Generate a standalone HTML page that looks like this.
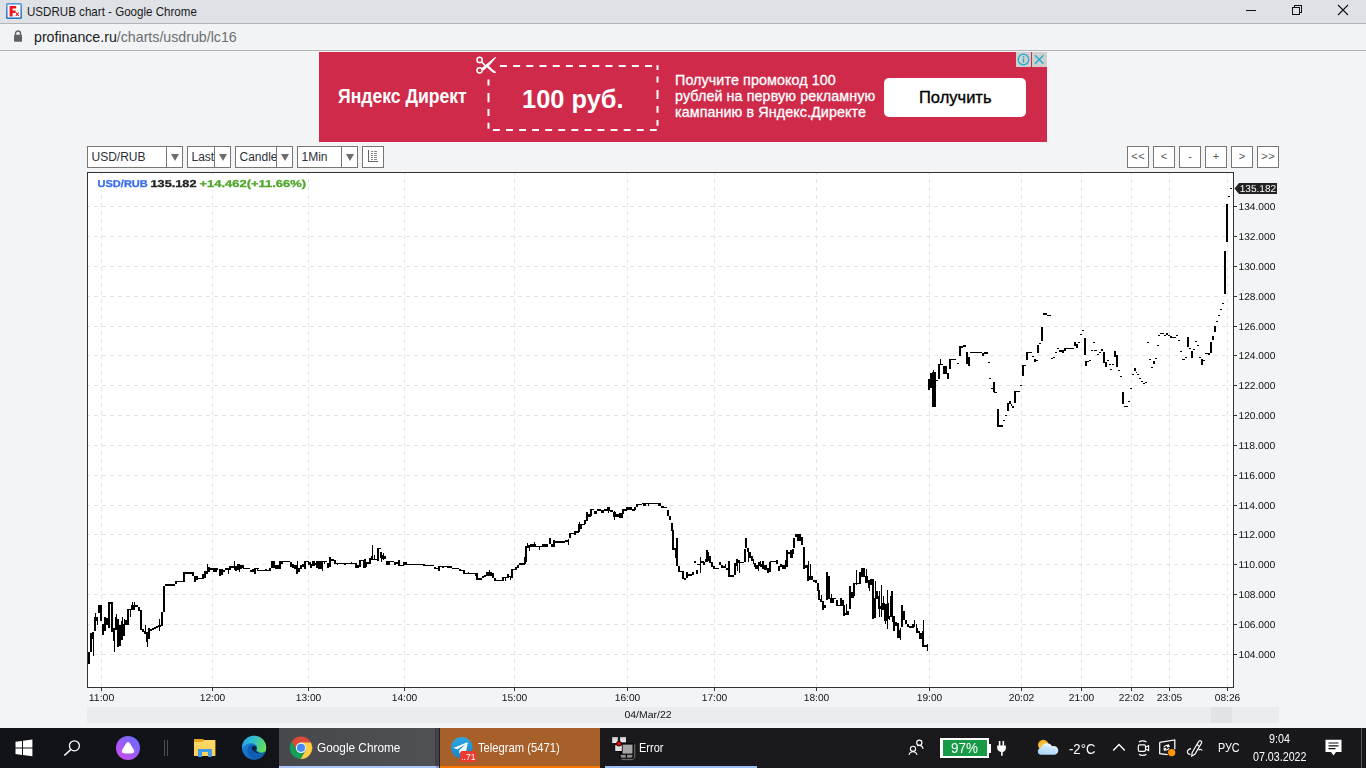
<!DOCTYPE html>
<html>
<head>
<meta charset="utf-8">
<title>USDRUB chart</title>
<style>
*{box-sizing:border-box;margin:0;padding:0}
html,body{width:1366px;height:768px;overflow:hidden;background:#f3f4f6;font-family:"Liberation Sans",sans-serif;}
.abs{position:absolute}
.nw{white-space:nowrap}
#titlebar{left:0;top:0;width:1366px;height:23px;background:#dee1e6}
#titlebar .t{left:27px;top:4.300px;font-size:12.2px;transform:scaleX(0.95);line-height:16px;color:#1a1a1a;white-space:nowrap;transform-origin:0 0}
#tb-line{left:0;top:23px;width:1366px;height:1px;background:#b3b4b6}
#urlbar{left:0;top:24px;width:1366px;height:26px;background:#f1f3f4}
#urlbar .u{left:34px;top:4.300px;font-size:14.2px;line-height:18px;color:#202124;white-space:nowrap;transform-origin:0 0}
#urlbar .u span{color:#6b6f74}
#url-line{left:0;top:50px;width:1366px;height:1px;background:#b3b4b6}
#page{left:0;top:51px;width:1366px;height:677px;background:#f3f4f6}
#ad{left:319px;top:52px;width:728px;height:90px;background:#cf2a4a;overflow:hidden;color:#fff}
#taskbar{will-change:transform;left:0;top:728px;width:1366px;height:40px;background:linear-gradient(90deg,#111318 0,#121419 270px,#1a1a1d 620px,#18181b 100%);color:#fff}
.sel{height:22px;top:146px;border:1px solid #767676;background:#fff;font-size:12px;color:#2b2f3a}
.sel .tx{position:absolute;left:3.5px;top:3px;line-height:14px;white-space:nowrap}
.sel .dv{position:absolute;top:0;width:1px;height:20px;background:#767676}
.sel .ar{position:absolute;top:7px;width:0;height:0;border-left:4px solid transparent;border-right:4px solid transparent;border-top:7px solid #6e6e6e}
.btn{height:22px;width:22px;top:146px;border:1px solid #767676;background:#fff;font-size:11px;color:#555;text-align:center;line-height:19px;letter-spacing:0.4px;padding-left:0.4px}
#scroll{left:87px;top:707px;width:1192px;height:16px;background:#ebecee}
#thumb{left:1211px;top:707px;width:21px;height:16px;background:#e2e3e5}
.tk{position:absolute;top:0;height:40px}
.lbl{position:absolute;top:12px;font-size:12.2px;line-height:16px;white-space:nowrap;color:#fff;transform-origin:0 0}
</style>
</head>
<body>
<div id="titlebar" class="abs">
<svg class="abs" style="left:6px;top:3px" width="16" height="16" viewBox="0 0 16 16"><defs><linearGradient id="fv" x1="0" y1="0" x2="0" y2="1"><stop offset="0" stop-color="#5a9ad8"/><stop offset="1" stop-color="#2c72c0"/></linearGradient></defs><rect x="0" y="0" width="16" height="16" rx="1.500" fill="url(#fv)"/><rect x="1.600" y="1.600" width="12.800" height="12.800" fill="#fff"/><path d="M3.600 3h6.600v2.500H6.600v2h3v2.400h-3v3.600h-3z" fill="#f0141e"/><path d="M9.300 9.500h1.300l.7.900.7-.9h1.300l-1.300 1.700 1.400 1.900h-1.300l-.8-1.100-.8 1.100H9.200l1.400-1.900z" fill="#f0141e"/></svg>
<div class="t abs" id="ttl">USDRUB chart - Google Chrome</div>
<svg class="abs" style="left:1240px;top:0" width="126" height="23" viewBox="1240 0 126 23" shape-rendering="crispEdges"><rect x="1246" y="10" width="10" height="1" fill="#111"/><g fill="none" stroke="#111" stroke-width="1"><rect x="1292.500" y="7.500" width="7" height="7"/><path d="M1294.500 7.500v-2h7v7h-2"/></g><g shape-rendering="geometricPrecision" stroke="#111" stroke-width="1.100"><path d="M1338 5l10 10M1348 5l-10 10"/></g></svg>
</div>
<div id="tb-line" class="abs"></div>
<div id="urlbar" class="abs">
<svg class="abs" style="left:13px;top:6px" width="10" height="13" viewBox="0 0 10 13"><path d="M2.500 5V3.600a2.500 2.600 0 0 1 5 0V5" fill="none" stroke="#5f6368" stroke-width="1.400"/><rect x="1" y="4.800" width="8" height="7" rx="0.800" fill="#5f6368"/></svg>
<div class="u abs" id="url">profinance.ru<span>/charts/usdrub/lc16</span></div>
</div>
<div id="url-line" class="abs"></div>
<div id="page" class="abs"></div>

<!-- AD -->
<div id="ad" class="abs">
<div class="abs nw" id="ad1" style="left:19px;top:31px;font-size:21px;font-weight:bold;line-height:26px;transform-origin:0 0;transform:scaleX(0.837)">Яндекс Директ</div>
<svg class="abs" style="left:156px;top:3px" width="24" height="22" viewBox="0 0 24 22"><g fill="none" stroke="#fff" stroke-width="1.500"><circle cx="4.600" cy="4.900" r="2.600"/><circle cx="4.600" cy="15.300" r="2.600"/><path d="M6.500 6.900l4.600 4.600" stroke-width="1.700"/></g><path d="M6.300 13.400L19.200 2.700q1.700-1.300 2.100-.5Q16.500 9 8.600 15.600z" fill="#fff"/><path d="M11.400 11.600l1.800-1.700q3.800 4.600 8.100 7.400-.9 1.500-3.500.1-3.600-2.500-6.400-5.800z" fill="#fff"/></svg>
<svg class="abs" style="left:0;top:0" width="728" height="90" viewBox="0 0 728 90"><path d="M180.9 13.0h7.0v2.0h-7.0zM194.1 13.0h7.0v2.0h-7.0zM207.3 13.0h7.0v2.0h-7.0zM220.5 13.0h7.0v2.0h-7.0zM233.7 13.0h7.0v2.0h-7.0zM246.9 13.0h7.0v2.0h-7.0zM260.1 13.0h7.0v2.0h-7.0zM273.3 13.0h7.0v2.0h-7.0zM286.5 13.0h7.0v2.0h-7.0zM299.7 13.0h7.0v2.0h-7.0zM312.9 13.0h7.0v2.0h-7.0zM326.1 13.0h7.0v2.0h-7.0zM337.5 13.2h2.0v4.8h-2.0zM337.5 24.5h2.0v6.1h-2.0zM337.5 37.9h2.0v9.0h-2.0zM337.5 54.0h2.0v6.8h-2.0zM337.5 68.0h2.0v5.8h-2.0zM173.9 77.0h6.9v2.0h-6.9zM187.0 77.0h6.9v2.0h-6.9zM200.1 77.0h6.9v2.0h-6.9zM213.1 77.0h6.9v2.0h-6.9zM226.2 77.0h6.9v2.0h-6.9zM239.3 77.0h6.9v2.0h-6.9zM252.4 77.0h6.9v2.0h-6.9zM265.5 77.0h6.9v2.0h-6.9zM278.5 77.0h6.9v2.0h-6.9zM291.6 77.0h6.9v2.0h-6.9zM304.7 77.0h6.9v2.0h-6.9zM317.8 77.0h6.9v2.0h-6.9zM330.9 77.0h6.9v2.0h-6.9zM168.5 27.5h2.0v6.0h-2.0zM168.5 41.0h2.0v9.2h-2.0zM168.5 57.1h2.0v6.9h-2.0zM168.5 70.8h2.0v6.0h-2.0z" fill="#fff"/></svg>
<div class="abs nw" id="ad2" style="left:203px;top:32px;font-size:25.200px;font-weight:bold;line-height:30px;transform-origin:0 0;transform:scaleX(1.009)">100 руб.</div>
<div class="abs" id="ad3" style="left:356px;top:20px;font-size:14.300px;line-height:16px;width:230px;letter-spacing:0.100px;-webkit-text-stroke:0.300px #fff">Получите промокод 100<br>рублей на первую рекламную<br>кампанию в Яндекс.Директе</div>
<div class="abs" style="left:565px;top:26px;width:142px;height:39px;background:#fff;border-radius:5px"></div>
<div class="abs nw" id="ad4" style="left:600px;top:35px;font-size:16.500px;line-height:20px;color:#000;-webkit-text-stroke:0.350px #000;transform-origin:0 0">Получить</div>
<div class="abs" style="left:697px;top:0;width:15px;height:15px;background:#cfcfcf"></div>
<div class="abs" style="left:713px;top:0;width:15px;height:15px;background:#cfcfcf"></div>
<svg class="abs" style="left:697px;top:0" width="31" height="15" viewBox="0 0 31 15"><circle cx="7.500" cy="7.500" r="5.300" fill="none" stroke="#1badd1" stroke-width="1.200"/><rect x="6.900" y="6.400" width="1.300" height="4.300" fill="#1badd1"/><rect x="6.900" y="4" width="1.300" height="1.400" fill="#1badd1"/><path d="M19 3.200l8.500 8.600M27.500 3.200L19 11.800" stroke="#1badd1" stroke-width="1.300"/></svg>
</div>

<!-- TOOLBAR -->
<div class="sel abs" style="left:87px;width:96px"><div class="tx">USD/RUB</div><div class="dv" style="left:78px"></div><div class="ar" style="left:83px"></div></div>
<div class="sel abs" style="left:187px;width:44px;overflow:hidden"><div class="tx">Last</div><div class="dv" style="left:26px"></div><div class="ar" style="left:31px"></div></div>
<div class="sel abs" style="left:235px;width:58px;overflow:hidden"><div class="tx">Candle</div><div class="dv" style="left:40px;box-shadow:1px 0 0 #fff,2px 0 0 #fff"></div><div class="ar" style="left:45px"></div></div>
<div class="sel abs" style="left:297px;width:61px"><div class="tx">1Min</div><div class="dv" style="left:43px"></div><div class="ar" style="left:48px"></div></div>
<div class="btn abs" style="left:362px"><svg class="abs" style="left:4px;top:3px" width="13" height="13" viewBox="0 0 13 13" shape-rendering="crispEdges"><path d="M1.500 0v11.500h9" fill="none" stroke="#666" stroke-width="1"/><g fill="#888"><rect x="4" y="1" width="2" height="1"/><rect x="7" y="1" width="3" height="1"/><rect x="4" y="3" width="2" height="1"/><rect x="7" y="3" width="3" height="1"/><rect x="4" y="5" width="2" height="1"/><rect x="7" y="5" width="3" height="1"/><rect x="4" y="7" width="2" height="1"/><rect x="7" y="7" width="3" height="1"/><rect x="4" y="9" width="2" height="1"/><rect x="7" y="9" width="3" height="1"/></g></svg></div>
<div class="btn abs" style="left:1127px">&lt;&lt;</div>
<div class="btn abs" style="left:1153px">&lt;</div>
<div class="btn abs" style="left:1179px">-</div>
<div class="btn abs" style="left:1205px">+</div>
<div class="btn abs" style="left:1231px">&gt;</div>
<div class="btn abs" style="left:1257px">&gt;&gt;</div>

<!-- CHART -->
<div id="scroll" class="abs"></div>
<div id="thumb" class="abs"></div>
<svg class="abs" style="left:0;top:160px;will-change:transform" width="1366" height="568" viewBox="0 160 1366 568" font-family="Liberation Sans, sans-serif">
<rect x="87" y="172" width="1147" height="516" fill="#fff"/>
<g shape-rendering="crispEdges">
<g stroke="#e4e4e4" stroke-width="1" fill="none">
<path d="M88 206.5H1231" stroke-dasharray="4 4" stroke-dashoffset="2"/>
<path d="M88 236.5H1231" stroke-dasharray="4 4" stroke-dashoffset="2"/>
<path d="M88 266.5H1231" stroke-dasharray="4 4" stroke-dashoffset="2"/>
<path d="M88 296.5H1231" stroke-dasharray="4 4" stroke-dashoffset="2"/>
<path d="M88 326.5H1231" stroke-dasharray="4 4" stroke-dashoffset="2"/>
<path d="M88 355.5H1231" stroke-dasharray="4 4" stroke-dashoffset="2"/>
<path d="M88 385.5H1231" stroke-dasharray="4 4" stroke-dashoffset="2"/>
<path d="M88 415.5H1231" stroke-dasharray="4 4" stroke-dashoffset="2"/>
<path d="M88 445.5H1231" stroke-dasharray="4 4" stroke-dashoffset="2"/>
<path d="M88 475.5H1231" stroke-dasharray="4 4" stroke-dashoffset="2"/>
<path d="M88 505.5H1231" stroke-dasharray="4 4" stroke-dashoffset="2"/>
<path d="M88 534.5H1231" stroke-dasharray="4 4" stroke-dashoffset="2"/>
<path d="M88 564.5H1231" stroke-dasharray="4 4" stroke-dashoffset="2"/>
<path d="M88 594.5H1231" stroke-dasharray="4 4" stroke-dashoffset="2"/>
<path d="M88 624.5H1231" stroke-dasharray="4 4" stroke-dashoffset="2"/>
<path d="M88 654.5H1231" stroke-dasharray="4 4" stroke-dashoffset="2"/>
<path d="M101.5 173V687" stroke-dasharray="4 4" stroke-dashoffset="2"/>
<path d="M212.5 173V687" stroke-dasharray="4 4" stroke-dashoffset="2"/>
<path d="M308.5 173V687" stroke-dasharray="4 4" stroke-dashoffset="2"/>
<path d="M404.5 173V687" stroke-dasharray="4 4" stroke-dashoffset="2"/>
<path d="M514.5 173V687" stroke-dasharray="4 4" stroke-dashoffset="2"/>
<path d="M627.5 173V687" stroke-dasharray="4 4" stroke-dashoffset="2"/>
<path d="M714.5 173V687" stroke-dasharray="4 4" stroke-dashoffset="2"/>
<path d="M816.5 173V687" stroke-dasharray="4 4" stroke-dashoffset="2"/>
<path d="M929.5 173V687" stroke-dasharray="4 4" stroke-dashoffset="2"/>
<path d="M1021.5 173V687" stroke-dasharray="4 4" stroke-dashoffset="2"/>
<path d="M1081.5 173V687" stroke-dasharray="4 4" stroke-dashoffset="2"/>
<path d="M1131.5 173V687" stroke-dasharray="4 4" stroke-dashoffset="2"/>
<path d="M1169.5 173V687" stroke-dasharray="4 4" stroke-dashoffset="2"/>
<path d="M1227.5 173V687" stroke-dasharray="4 4" stroke-dashoffset="2"/>
</g>
<rect x="95" y="177" width="212" height="13" fill="#fff"/>
<g fill="#333">
<rect x="87" y="172" width="1147" height="1"/>
<rect x="87" y="172" width="1" height="516"/>
<rect x="87" y="687" width="1147" height="1"/>
<rect x="1233" y="172" width="1" height="516"/>
<rect x="1234" y="206" width="3" height="1"/>
<rect x="1234" y="236" width="3" height="1"/>
<rect x="1234" y="266" width="3" height="1"/>
<rect x="1234" y="296" width="3" height="1"/>
<rect x="1234" y="326" width="3" height="1"/>
<rect x="1234" y="355" width="3" height="1"/>
<rect x="1234" y="385" width="3" height="1"/>
<rect x="1234" y="415" width="3" height="1"/>
<rect x="1234" y="445" width="3" height="1"/>
<rect x="1234" y="475" width="3" height="1"/>
<rect x="1234" y="505" width="3" height="1"/>
<rect x="1234" y="534" width="3" height="1"/>
<rect x="1234" y="564" width="3" height="1"/>
<rect x="1234" y="594" width="3" height="1"/>
<rect x="1234" y="624" width="3" height="1"/>
<rect x="1234" y="654" width="3" height="1"/>
<rect x="101" y="688" width="1" height="3"/>
<rect x="212" y="688" width="1" height="3"/>
<rect x="308" y="688" width="1" height="3"/>
<rect x="404" y="688" width="1" height="3"/>
<rect x="514" y="688" width="1" height="3"/>
<rect x="627" y="688" width="1" height="3"/>
<rect x="714" y="688" width="1" height="3"/>
<rect x="816" y="688" width="1" height="3"/>
<rect x="929" y="688" width="1" height="3"/>
<rect x="1021" y="688" width="1" height="3"/>
<rect x="1081" y="688" width="1" height="3"/>
<rect x="1131" y="688" width="1" height="3"/>
<rect x="1169" y="688" width="1" height="3"/>
<rect x="1227" y="688" width="1" height="3"/>
</g>
<path fill="#000" d="M88 652h2v12h-2zM90 633h2v19h-2zM92 632h2v7h-2zM93 639h1v17h-1zM94 617h2v14h-2zM95 613h1v4h-1zM96 617h2v4h-2zM97 621h1v4h-1zM98 605h4v8h-4zM100 605h2v16h-2zM102 624h2v11h-2zM104 617h2v14h-2zM106 618h2v7h-2zM108 602h2v26h-2zM108 602h5v2h-5zM111 602h2v30h-2zM113 628h2v13h-2zM114 641h1v11h-1zM115 617h2v13h-2zM116 614h1v3h-1zM117 619h2v28h-2zM119 625h2v21h-2zM121 621h2v19h-2zM122 617h1v4h-1zM123 624h2v12h-2zM124 619h1v5h-1zM125 620h2v5h-2zM127 609h2v16h-2zM127 609h5v1h-5zM130 609h1v8h-1zM131 605h4v5h-4zM132 602h1v3h-1zM134 602h1v3h-1zM135 605h3v2h-3zM138 607h2v4h-2zM140 610h2v20h-2zM142 629h2v3h-2zM144 631h2v3h-2zM145 625h1v9h-1zM146 632h2v10h-2zM147 642h1v5h-1zM148 628h2v11h-2zM150 629h2v2h-2zM152 628h2v2h-2zM154 627h2v2h-2zM156 626h2v2h-2zM158 625h3v2h-3zM159 619h1v12h-1zM161 612h2v14h-2zM163 586h2v26h-2zM165 584h10v2h-10zM175 581h2v3h-2zM176 581h8v1h-8zM183 572h2v10h-2zM183 572h11v2h-11zM192 572h2v4h-2zM194 576h2v6h-2zM196 576h2v4h-2zM198 578h4v1h-4zM202 574h2v5h-2zM204 571h2v7h-2zM206 571h2v3h-2zM207 564h1v7h-1zM208 567h2v5h-2zM210 568h8v2h-8zM213 569h4v3h-4zM219 569h2v7h-2zM221 569h2v6h-2zM223 570h2v2h-2zM225 568h2v2h-2zM227 568h2v2h-2zM228 569h1v5h-1zM229 566h2v4h-2zM229 566h5v2h-5zM234 561h1v9h-1zM235 566h2v5h-2zM237 564h2v6h-2zM239 564h1v8h-1zM240 565h2v4h-2zM242 565h2v3h-2zM243 568h7v1h-7zM250 570h2v2h-2zM252 569h2v3h-2zM254 568h2v6h-2zM256 568h3v1h-3zM257 568h1v3h-1zM257 570h14v1h-14zM265 569h2v2h-2zM269 568h2v3h-2zM271 561h4v7h-4zM275 565h4v4h-4zM279 561h2v8h-2zM279 561h11v1h-11zM281 562h2v2h-2zM290 562h2v5h-2zM292 564h2v4h-2zM294 565h2v4h-2zM296 565h2v9h-2zM297 561h1v4h-1zM298 568h2v4h-2zM300 565h2v4h-2zM302 564h3v3h-3zM304 561h2v8h-2zM304 561h5v1h-5zM308 562h3v3h-3zM310 564h2v4h-2zM312 561h3v5h-3zM315 563h2v2h-2zM316 561h2v7h-2zM318 561h4v8h-4zM322 561h1v10h-1zM321 561h6v1h-6zM324 562h1v2h-1zM327 563h2v5h-2zM329 557h2v10h-2zM331 559h3v2h-3zM334 560h2v4h-2zM336 563h20v1h-20zM337 563h1v2h-1zM344 563h2v2h-2zM351 562h1v2h-1zM355 563h2v5h-2zM357 565h2v3h-2zM359 560h2v7h-2zM359 560h6v1h-6zM363 560h3v8h-3zM364 559h2v1h-2zM360 560h1v7h-1zM365 562h2v5h-2zM367 562h2v2h-2zM369 558h2v6h-2zM371 556h2v4h-2zM372 545h1v11h-1zM372 559h6v1h-6zM374 555h1v4h-1zM377 548h2v13h-2zM377 548h4v1h-4zM380 552h2v6h-2zM381 558h1v4h-1zM382 555h2v4h-2zM383 553h1v7h-1zM384 556h2v3h-2zM386 561h4v4h-4zM390 561h4v1h-4zM394 562h2v3h-2zM396 562h2v2h-2zM398 560h2v6h-2zM398 565h6v1h-6zM403 562h4v3h-4zM407 564h17v1h-17zM423 564h2v2h-2zM425 565h9v1h-9zM434 567h2v2h-2zM436 568h3v1h-3zM438 566h2v5h-2zM438 566h14v1h-14zM442 566h2v2h-2zM447 566h5v2h-5zM452 568h7v1h-7zM459 569h2v2h-2zM461 570h4v1h-4zM463 570h2v4h-2zM465 573h12v1h-12zM468 572h1v1h-1zM475 573h2v3h-2zM476 573h2v7h-2zM477 578h5v2h-5zM482 576h2v2h-2zM484 575h2v2h-2zM486 572h6v4h-6zM489 570h1v3h-1zM492 573h2v5h-2zM494 578h2v3h-2zM496 580h6v1h-6zM502 577h2v4h-2zM503 577h4v1h-4zM505 577h1v4h-1zM507 574h2v4h-2zM509 576h2v1h-2zM510 577h1v3h-1zM511 569h2v9h-2zM512 569h4v1h-4zM515 567h2v3h-2zM517 565h2v3h-2zM519 563h6v2h-6zM524 557h2v7h-2zM525 546h2v16h-2zM527 543h1v4h-1zM527 545h3v3h-3zM529 547h1v4h-1zM530 544h6v3h-6zM534 542h1v2h-1zM536 546h6v1h-6zM539 547h1v3h-1zM542 544h6v3h-6zM549 538h2v6h-2zM551 544h2v3h-2zM553 540h2v7h-2zM555 541h10v2h-10zM565 540h4v2h-4zM568 539h1v6h-1zM569 533h2v5h-2zM570 533h5v1h-5zM574 531h2v4h-2zM575 531h4v2h-4zM578 524h2v8h-2zM579 522h1v3h-1zM580 524h2v5h-2zM581 524h4v1h-4zM584 520h2v4h-2zM586 512h2v9h-2zM588 514h3v3h-3zM590 509h2v7h-2zM590 509h4v1h-4zM594 511h3v3h-3zM597 509h4v2h-4zM601 510h3v3h-3zM604 509h3v2h-3zM607 507h3v4h-3zM608 510h1v3h-1zM610 510h3v2h-3zM613 512h3v5h-3zM614 511h1v9h-1zM616 514h3v3h-3zM619 513h4v5h-4zM622 509h2v5h-2zM624 509h3v2h-3zM626 507h3v3h-3zM629 507h3v3h-3zM632 509h3v2h-3zM634 507h2v3h-2zM636 504h2v3h-2zM637 504h5v1h-5zM642 503h19v1h-19zM643 504h3v2h-3zM648 504h1v2h-1zM658 503h3v3h-3zM661 506h3v2h-3zM663 507h4v1h-4zM667 510h2v6h-2zM669 516h2v4h-2zM671 523h2v8h-2zM672 530h2v20h-2zM672 548h4v2h-4zM675 548h1v10h-1zM676 538h2v28h-2zM678 566h2v6h-2zM679 571h5v1h-5zM682 571h2v8h-2zM684 578h2v2h-2zM686 572h2v6h-2zM688 574h4v2h-4zM692 572h2v3h-2zM696 570h2v4h-2zM694 561h2v2h-2zM697 564h3v1h-3zM700 557h1v16h-1zM700 561h3v2h-3zM703 562h2v3h-2zM706 554h2v8h-2zM706 550h1v4h-1zM700 557h1v15h-1zM701 561h3v2h-3zM703 562h2v3h-2zM705 559h2v3h-2zM706 550h2v9h-2zM707 552h2v9h-2zM709 556h2v7h-2zM711 562h2v5h-2zM713 566h2v3h-2zM714 568h5v1h-5zM719 562h2v3h-2zM721 565h2v3h-2zM723 566h3v2h-3zM725 564h1v4h-1zM726 568h2v2h-2zM728 561h2v16h-2zM728 575h6v2h-6zM734 563h2v12h-2zM736 559h2v7h-2zM737 566h1v5h-1zM738 560h2v3h-2zM739 563h1v10h-1zM740 562h4v1h-4zM744 549h2v13h-2zM745 538h2v10h-2zM747 548h2v4h-2zM748 552h1v10h-1zM749 552h2v6h-2zM751 556h2v5h-2zM753 559h1v5h-1zM754 563h2v4h-2zM755 565h3v4h-3zM758 565h1v6h-1zM758 562h2v4h-2zM760 561h1v3h-1zM760 564h2v3h-2zM762 561h2v8h-2zM764 565h3v5h-3zM767 568h2v5h-2zM769 562h2v10h-2zM770 561h6v1h-6zM776 560h2v4h-2zM778 566h2v5h-2zM780 564h2v3h-2zM782 565h4v4h-4zM785 560h2v7h-2zM786 550h2v17h-2zM787 552h4v2h-4zM790 550h3v8h-3zM792 549h2v5h-2zM793 538h2v10h-2zM795 534h2v3h-2zM797 534h4v7h-4zM801 537h2v8h-2zM803 547h2v22h-2zM805 565h3v3h-3zM807 565h2v16h-2zM808 561h1v5h-1zM809 576h4v4h-4zM810 564h1v12h-1zM813 580h2v2h-2zM815 580h2v3h-2zM817 583h2v8h-2zM818 590h2v10h-2zM820 599h2v3h-2zM821 595h1v4h-1zM822 601h2v9h-2zM824 605h2v3h-2zM826 572h2v28h-2zM828 576h2v23h-2zM830 598h4v5h-4zM831 594h1v4h-1zM834 598h2v1h-2zM836 600h2v6h-2zM837 605h4v1h-4zM840 598h2v8h-2zM842 600h2v6h-2zM843 605h2v11h-2zM845 613h2v2h-2zM846 604h1v9h-1zM847 611h2v4h-2zM849 586h2v23h-2zM851 592h3v6h-3zM853 583h2v13h-2zM853 583h8v1h-8zM856 570h1v15h-1zM859 572h2v11h-2zM861 568h4v9h-4zM865 576h3v7h-3zM866 569h1v8h-1zM868 580h2v8h-2zM869 588h1v3h-1zM870 579h4v6h-4zM872 580h2v39h-2zM874 598h2v20h-2zM875 581h1v17h-1zM876 591h2v8h-2zM878 596h2v13h-2zM879 591h1v26h-1zM880 606h3v3h-3zM881 585h1v32h-1zM882 603h3v7h-3zM883 596h1v7h-1zM884 604h3v17h-3zM885 621h1v3h-1zM887 603h2v16h-2zM887 590h1v39h-1zM889 616h1v4h-1zM890 596h2v21h-2zM891 591h2v26h-2zM892 617h1v5h-1zM893 616h2v15h-2zM895 622h2v4h-2zM897 623h2v15h-2zM899 630h2v8h-2zM900 628h1v12h-1zM901 605h2v22h-2zM903 611h2v9h-2zM905 620h2v4h-2zM907 624h2v3h-2zM909 626h4v2h-4zM912 624h2v4h-2zM914 620h1v7h-1zM916 624h1v5h-1zM916 628h2v5h-2zM918 631h2v2h-2zM919 633h4v6h-4zM922 631h2v16h-2zM923 620h1v11h-1zM923 645h5v2h-5zM927 644h1v7h-1zM928 379h2v11h-2zM930 373h2v15h-2zM932 372h4v35h-4zM933 370h1v2h-1zM934 380h4v1h-4zM938 364h2v15h-2zM940 359h1v5h-1zM938 364h5v1h-5zM943 366h4v8h-4zM947 373h2v6h-2zM949 360h2v9h-2zM949 359h7v1h-7zM957 363h2v1h-2zM959 347h2v9h-2zM959 346h4v2h-4zM963 345h3v2h-3zM966 352h2v12h-2zM968 357h2v9h-2zM970 352h6v1h-6zM976 352h6v1h-6zM982 353h2v3h-2zM984 352h4v2h-4zM988 362h2v1h-2zM989 378h2v1h-2zM993 382h2v10h-2zM991 388h3v1h-3zM994 392h3v1h-3zM997 409h2v18h-2zM999 425h4v2h-4zM1003 420h2v1h-2zM1005 415h2v1h-2zM1007 403h2v8h-2zM1009 401h2v3h-2zM1011 404h1v2h-1zM1012 406h2v2h-2zM1014 391h2v12h-2zM1014 391h6v1h-6zM1020 385h2v1h-2zM1022 365h2v11h-2zM1022 365h4v1h-4zM1026 353h2v7h-2zM1026 352h6v1h-6zM1032 356h2v1h-2zM1034 359h2v3h-2zM1034 360h4v1h-4zM1037 345h2v8h-2zM1039 343h2v1h-2zM1041 327h2v14h-2zM1043 313h4v2h-4zM1047 315h4v1h-4zM1036 360h2v1h-2zM1051 358h2v1h-2zM1053 357h2v1h-2zM1055 352h2v1h-2zM1057 348h2v1h-2zM1059 350h3v2h-3zM1062 350h2v2h-2zM1062 352h2v1h-2zM1064 348h2v3h-2zM1065 348h9v1h-9zM1074 342h2v4h-2zM1076 344h2v4h-2zM1078 342h2v1h-2zM1080 334h2v1h-2zM1082 330h2v1h-2zM1084 338h2v17h-2zM1085 361h2v5h-2zM1087 361h2v1h-2zM1089 360h2v1h-2zM1093 342h2v1h-2zM1091 350h2v1h-2zM1094 350h3v1h-3zM1097 354h2v1h-2zM1099 352h2v1h-2zM1101 349h2v2h-2zM1103 352h2v11h-2zM1105 362h2v5h-2zM1107 360h2v1h-2zM1109 364h2v1h-2zM1112 364h2v1h-2zM1110 369h2v1h-2zM1114 351h2v6h-2zM1116 355h2v12h-2zM1118 370h2v1h-2zM1120 376h2v1h-2zM1122 392h2v12h-2zM1124 406h4v1h-4zM1128 401h2v1h-2zM1130 388h2v1h-2zM1132 374h2v1h-2zM1134 368h2v3h-2zM1136 372h1v1h-1zM1137 374h2v1h-2zM1139 378h2v1h-2zM1141 381h2v1h-2zM1143 383h2v1h-2zM1145 382h2v1h-2zM1147 342h2v1h-2zM1149 359h2v1h-2zM1151 367h2v1h-2zM1153 361h2v3h-2zM1155 358h2v1h-2zM1157 345h2v1h-2zM1158 335h2v1h-2zM1160 333h4v1h-4zM1164 335h2v1h-2zM1166 333h2v2h-2zM1168 335h2v1h-2zM1170 336h2v2h-2zM1172 337h4v1h-4zM1176 335h2v1h-2zM1178 340h2v1h-2zM1180 351h2v1h-2zM1182 359h3v1h-3zM1185 357h2v1h-2zM1187 337h2v10h-2zM1189 348h2v1h-2zM1191 351h2v7h-2zM1193 349h2v1h-2zM1195 341h2v1h-2zM1197 345h2v1h-2zM1199 357h2v1h-2zM1201 359h2v6h-2zM1203 360h2v1h-2zM1205 353h5v1h-5zM1208 353h2v2h-2zM1210 342h2v11h-2zM1212 336h2v4h-2zM1214 326h2v6h-2zM1216 321h2v1h-2zM1218 315h2v1h-2zM1220 309h2v1h-2zM1222 303h2v1h-2zM1224 251h2v43h-2zM1226 204h2v38h-2zM1228 196h2v1h-2zM1230 188h2v1h-2z"/>
</g>
<g font-size="10px" fill="#111" text-rendering="geometricPrecision">
<text x="1238.500" y="210.1" textLength="36.800" lengthAdjust="spacingAndGlyphs">134.000</text>
<text x="1238.500" y="240.1" textLength="36.800" lengthAdjust="spacingAndGlyphs">132.000</text>
<text x="1238.500" y="270.1" textLength="36.800" lengthAdjust="spacingAndGlyphs">130.000</text>
<text x="1238.500" y="300.1" textLength="36.800" lengthAdjust="spacingAndGlyphs">128.000</text>
<text x="1238.500" y="330.1" textLength="36.800" lengthAdjust="spacingAndGlyphs">126.000</text>
<text x="1238.500" y="359.1" textLength="36.800" lengthAdjust="spacingAndGlyphs">124.000</text>
<text x="1238.500" y="389.1" textLength="36.800" lengthAdjust="spacingAndGlyphs">122.000</text>
<text x="1238.500" y="419.1" textLength="36.800" lengthAdjust="spacingAndGlyphs">120.000</text>
<text x="1238.500" y="449.1" textLength="36.800" lengthAdjust="spacingAndGlyphs">118.000</text>
<text x="1238.500" y="479.1" textLength="36.800" lengthAdjust="spacingAndGlyphs">116.000</text>
<text x="1238.500" y="509.1" textLength="36.800" lengthAdjust="spacingAndGlyphs">114.000</text>
<text x="1238.500" y="538.1" textLength="36.800" lengthAdjust="spacingAndGlyphs">112.000</text>
<text x="1238.500" y="568.1" textLength="36.800" lengthAdjust="spacingAndGlyphs">110.000</text>
<text x="1238.500" y="598.1" textLength="36.800" lengthAdjust="spacingAndGlyphs">108.000</text>
<text x="1238.500" y="628.1" textLength="36.800" lengthAdjust="spacingAndGlyphs">106.000</text>
<text x="1238.500" y="658.1" textLength="36.800" lengthAdjust="spacingAndGlyphs">104.000</text>
<text x="101.5" y="701.200" text-anchor="middle" textLength="25.500" lengthAdjust="spacingAndGlyphs">11:00</text>
<text x="212.5" y="701.200" text-anchor="middle" textLength="25.500" lengthAdjust="spacingAndGlyphs">12:00</text>
<text x="308.5" y="701.200" text-anchor="middle" textLength="25.500" lengthAdjust="spacingAndGlyphs">13:00</text>
<text x="404.5" y="701.200" text-anchor="middle" textLength="25.500" lengthAdjust="spacingAndGlyphs">14:00</text>
<text x="514.5" y="701.200" text-anchor="middle" textLength="25.500" lengthAdjust="spacingAndGlyphs">15:00</text>
<text x="627.5" y="701.200" text-anchor="middle" textLength="25.500" lengthAdjust="spacingAndGlyphs">16:00</text>
<text x="714.5" y="701.200" text-anchor="middle" textLength="25.500" lengthAdjust="spacingAndGlyphs">17:00</text>
<text x="816.5" y="701.200" text-anchor="middle" textLength="25.500" lengthAdjust="spacingAndGlyphs">18:00</text>
<text x="929.5" y="701.200" text-anchor="middle" textLength="25.500" lengthAdjust="spacingAndGlyphs">19:00</text>
<text x="1021.5" y="701.200" text-anchor="middle" textLength="25.500" lengthAdjust="spacingAndGlyphs">20:02</text>
<text x="1081.5" y="701.200" text-anchor="middle" textLength="25.500" lengthAdjust="spacingAndGlyphs">21:00</text>
<text x="1131.5" y="701.200" text-anchor="middle" textLength="25.500" lengthAdjust="spacingAndGlyphs">22:02</text>
<text x="1169.5" y="701.200" text-anchor="middle" textLength="25.500" lengthAdjust="spacingAndGlyphs">23:05</text>
<text x="1227.5" y="701.200" text-anchor="middle" textLength="25.500" lengthAdjust="spacingAndGlyphs">08:26</text>
<text x="648" y="718" text-anchor="middle" textLength="47" lengthAdjust="spacingAndGlyphs">04/Mar/22</text>
</g>
<path d="M1234.500 188.500l4.500-5.500h38v11h-38z" fill="#222"/>
<text x="1239.700" y="192.200" font-size="10px" text-rendering="geometricPrecision" fill="#fff" textLength="36.500" lengthAdjust="spacingAndGlyphs">135.182</text>
<g font-size="10px" font-weight="bold" text-rendering="geometricPrecision">
<text x="97.500" y="187" fill="#3b6ef0" stroke="#3b6ef0" stroke-width="0.300" textLength="50.300" lengthAdjust="spacingAndGlyphs">USD/RUB</text>
<text x="150.500" y="187" fill="#222" stroke="#222" stroke-width="0.300" textLength="46" lengthAdjust="spacingAndGlyphs">135.182</text>
<text x="199.500" y="187" fill="#4fa62b" stroke="#4fa62b" stroke-width="0.300" textLength="106.500" lengthAdjust="spacingAndGlyphs">+14.462(+11.66%)</text>
</g>
</svg>

<!-- TASKBAR -->
<div id="taskbar" class="abs">
<!-- windows logo -->
<svg class="abs" style="left:15px;top:11px" width="18" height="18" viewBox="0 0 18 18"><path d="M0.500 2.800L7 1.900V8.400H0.500zM8 1.750L17.400 0.450V8.400H8zM0.500 9.400H7V15.900L0.500 15zM8 9.400H17.400V17.350L8 16.050z" fill="#fff"/></svg>
<!-- search -->
<svg class="abs" style="left:62px;top:10px" width="20" height="20" viewBox="0 0 20 20"><circle cx="12.400" cy="7.800" r="5" fill="none" stroke="#fff" stroke-width="1.300"/><path d="M8.700 11.600L2.300 17.500" stroke="#fff" stroke-width="1.500"/></svg>
<!-- alice -->
<svg class="abs" style="left:115px;top:8px" width="26" height="26" viewBox="0 0 26 26"><defs><linearGradient id="ag" x1="0.850" y1="0.100" x2="0.150" y2="0.900"><stop offset="0" stop-color="#6f6bff"/><stop offset="0.500" stop-color="#9a5cf8"/><stop offset="1" stop-color="#c94df0"/></linearGradient></defs><circle cx="13" cy="12" r="12" fill="url(#ag)"/><path d="M13 6.200c1 0 1.700.7 2.300 1.700l3.600 6.200c.9 1.600.2 3-1.600 3.200-2.800.3-5.800.3-8.600 0-1.800-.2-2.500-1.600-1.600-3.200l3.600-6.200c.6-1 1.300-1.700 2.300-1.700z" fill="#fff"/></svg>
<!-- separator -->
<div class="abs" style="left:164px;top:12px;width:1px;height:16px;background:#4d5056"></div>
<div class="abs" style="left:167px;top:12px;width:1px;height:16px;background:#4d5056"></div>
<!-- folder -->
<svg class="abs" style="left:193px;top:10px" width="24" height="20" viewBox="0 0 24 20"><defs><linearGradient id="fg" x1="0" y1="0" x2="0" y2="1"><stop offset="0" stop-color="#ffd867"/><stop offset="1" stop-color="#fbce58"/></linearGradient></defs><path d="M1 2h21.400v16H1z" fill="url(#fg)"/><path d="M1 1h9l1 1.300-1.200 1.700H1z" fill="#e9a61d"/><path d="M5 11.300c0-.2.100-.3.300-.3h13.200c.2 0 .3.100.3.300V19H5z" fill="#3f9ae8"/><path d="M9 14h6v4H9z" fill="#ffd360"/><path d="M9 18h6v1H9z" fill="#111318"/></svg>
<!-- edge -->
<svg class="abs" style="left:241px;top:7px" width="27" height="27" viewBox="0 0 27 27"><defs><linearGradient id="eg1" x1="0" y1="0.300" x2="1" y2="0.550"><stop offset="0" stop-color="#2a9fe3"/><stop offset="0.450" stop-color="#32bfd0"/><stop offset="0.800" stop-color="#55d37a"/><stop offset="1" stop-color="#6fe04e"/></linearGradient><linearGradient id="eg2" x1="0.200" y1="0" x2="0.700" y2="1"><stop offset="0" stop-color="#2490e0"/><stop offset="0.600" stop-color="#1371c8"/><stop offset="1" stop-color="#0c57a8"/></linearGradient><clipPath id="ec"><circle cx="13.100" cy="12.800" r="12.100"/></clipPath></defs><g clip-path="url(#ec)"><rect x="0" y="0" width="27" height="27" fill="url(#eg2)"/><path d="M9.500 9.200c-2.800 1.800-3.800 5-2.800 8.200 1.200 3.800 4.800 6.600 9.300 6.600 3.500 0 6.500-1.800 8-4.500-3 2-7.500 1.500-9.800-1.200-2-2.300-2.200-5.500-.4-7.500z" fill="#0e5fb3"/><path d="M0 12C.5 5 6 0 13.100 0c7.500 0 13 5.500 12.900 12.300-.1 3.300-2.300 5.300-5.200 5.300-2.600 0-4.600-1.200-5.400-2.700-.5-1 .3-1.700.2-2.900-.2-2.200-2-3.700-4.800-3.800C6.500 8 2 10.500 0 14.500z" fill="url(#eg1)"/><circle cx="13.300" cy="13.300" r="2.500" fill="#0a2344"/><path d="M12 15.200c1.700 2.600 5.200 3.800 8.300 3.300 1.600-.3 2.700-.9 3.600-1.700-1 1-2.300 1.500-3.700 1.500-2.700 0-4.700-1.300-5.500-2.800z" fill="#0a2344"/></g></svg>
<!-- chrome button -->
<div class="tk" style="left:279px;width:157px;background:linear-gradient(90deg,#47484c,#4b4c50 50%,#505155)"><div class="abs" style="left:0;top:38px;width:157px;height:2px;background:#abc6f8"></div></div>
<div class="abs" style="left:435px;top:0;width:1px;height:38px;background:#3a3a40"></div><div class="abs" style="left:436px;top:0;width:3px;height:40px;background:#424248"></div><div class="abs" style="left:436px;top:38px;width:3px;height:2px;background:#8b9fc8"></div><div class="abs" style="left:439px;top:0;width:1px;height:40px;background:#1c2030"></div>
<svg class="abs" style="left:289px;top:8px" width="24" height="24" viewBox="0 0 24 24"><path d="M12.00 6.70L21.75 6.70A11 11 0 0 0 2.71 5.91L7.58 14.35A5.1 5.1 0 0 1 12.00 6.70z" fill="#de4a39" stroke="#de4a39" stroke-width="0.500"/><path d="M12.00 6.70L21.75 6.70A11 11 0 0 1 11.54 22.79L16.42 14.35A5.1 5.1 0 0 0 12.00 6.70z" fill="#ffce42" stroke="#ffce42" stroke-width="0.500"/><path d="M7.58 14.35L2.71 5.91A11 11 0 0 0 11.54 22.79L16.42 14.35A5.1 5.1 0 0 1 7.58 14.35z" fill="#14a05b" stroke="#14a05b" stroke-width="0.500"/><circle cx="12" cy="11.8" r="5.200" fill="#f4f6fb"/><circle cx="12" cy="11.8" r="4.100" fill="#4a8af4"/></svg>
<div class="lbl" id="tk1" style="left:317px;transform:scaleX(0.969)">Google Chrome</div>
<!-- telegram button -->
<div class="tk" style="left:440px;width:160px;background:#a8602a"><div class="abs" style="left:0;top:38px;width:160px;height:2px;background:#ff7602"></div></div>
<svg class="abs" style="left:450px;top:8px" width="28" height="28" viewBox="0 0 28 28"><defs><linearGradient id="tg" x1="0" y1="0" x2="0" y2="1"><stop offset="0" stop-color="#2fa7e3"/><stop offset="1" stop-color="#1585c6"/></linearGradient></defs><circle cx="11.800" cy="11.600" r="10.700" fill="url(#tg)"/><path d="M4.500 11.600l12.300-5c.6-.2 1.100.1.900.9l-2.100 9.900c-.15.700-.6.850-1.150.55l-3.200-2.350-1.550 1.500c-.17.170-.3.300-.65.300l.23-3.250 5.900-5.350c.26-.23-.06-.36-.4-.13l-7.300 4.600-3.150-1c-.7-.2-.7-.7.170-1.040z" fill="#fff"/><rect x="10.200" y="15" width="15.700" height="11" rx="1.800" fill="#ee3a30"/><text x="18.300" y="23.800" font-family="Liberation Sans, sans-serif" font-size="8.500" fill="#fff" text-anchor="middle">..71</text></svg>
<div class="lbl" id="tk2" style="left:478px;transform:scaleX(0.921)">Telegram (5471)</div>
<!-- error button -->
<div class="abs" style="left:605px;top:38px;width:152px;height:2px;background:#9cc0f6"></div>
<svg class="abs" style="left:611px;top:8px" width="26" height="26" viewBox="0 0 26 26"><defs><linearGradient id="sq" x1="0" y1="0" x2="0" y2="1"><stop offset="0" stop-color="#cfcfcf"/><stop offset="1" stop-color="#f0f0f0"/></linearGradient></defs><rect x="1.200" y="1.100" width="5.600" height="5.900" fill="url(#sq)"/><rect x="9.100" y="1.100" width="5.900" height="5.200" fill="url(#sq)"/><rect x="8.400" y="7.300" width="14.100" height="14.800" rx="1" fill="#050505"/><rect x="11.500" y="8.600" width="10" height="9" fill="#a6a6a6"/><path d="M9.600 18.700h5.200v3h-3.700c-.9 0-1.500-.6-1.500-1.500zM16 18.700h5.500v1.300c0 1-.7 1.700-1.700 1.700H16z" fill="#8c8c8c"/><rect x="3.700" y="8.700" width="7.600" height="6.800" fill="#050505"/><rect x="4.200" y="9.200" width="6.600" height="5.800" fill="#e2e2e2"/><path d="M23.700 8.300V21.500L21.500 23.600H10.500" fill="none" stroke="#8a8a8a" stroke-width="0.800"/><circle cx="7.900" cy="7.700" r="2.700" fill="#050505"/><circle cx="7.900" cy="7.700" r="2" fill="#f00"/></svg>
<div class="lbl" id="tk3" style="left:639px;transform:scaleX(0.903)">Error</div>
<!-- people -->
<svg class="abs" style="left:907px;top:10px" width="18" height="18" viewBox="0 0 18 18"><g fill="none" stroke="#fff" stroke-width="1.150"><circle cx="12.300" cy="4.700" r="2.600"/><circle cx="6" cy="10.800" r="2.600"/><path d="M2 16.900c.4-1.900 1.900-3.200 4-3.200s3.600 1.300 4 3.200"/><path d="M10.300 7.700c.6-.3 1.300-.4 2-.4 1.900 0 3.300 1.200 3.700 3.500"/></g></svg>
<!-- battery -->
<div class="abs" style="left:940px;top:10px;width:49px;height:20px;background:#fff"></div>
<div class="abs" style="left:942.500px;top:12.200px;width:44.600px;height:15.700px;background:#189b47"></div>
<div class="abs" style="left:989px;top:16px;width:2.300px;height:8.600px;background:#fff"></div>
<div class="abs nw" id="bat" style="left:950.600px;top:11px;font-size:14.500px;line-height:18px;color:#fff;transform-origin:0 0;transform:scaleX(0.93)">97%</div>
<!-- plug -->
<svg class="abs" style="left:996px;top:12px" width="11" height="17" viewBox="0 0 11 17"><path d="M2.800 1h1.600v5H2.800zM6.500 1h1.600v5H6.500z" fill="#fff"/><path d="M1.200 5.500h8.700v2.800c0 1.900-1.300 3.400-3.200 3.800V15.800H5.100V12.100c-1.900-.4-3.900-1.900-3.900-3.800z" fill="#fff"/></svg>
<!-- weather -->
<svg class="abs" style="left:1036px;top:10px" width="24" height="18" viewBox="0 0 24 18"><defs><linearGradient id="cg" x1="0.700" y1="0" x2="0.300" y2="1"><stop offset="0" stop-color="#f4f9fe"/><stop offset="0.450" stop-color="#c9e4fb"/><stop offset="1" stop-color="#a6d4f8"/></linearGradient><linearGradient id="sg" x1="0" y1="0" x2="0" y2="1"><stop offset="0" stop-color="#f2b01e"/><stop offset="1" stop-color="#fbd24d"/></linearGradient></defs><circle cx="7.300" cy="7" r="5.200" fill="url(#sg)"/><path d="M5.600 16.800c-2.200 0-3.800-1.500-3.800-3.400 0-1.900 1.400-3.300 3.200-3.500.7-2.700 3-4.600 5.800-4.600 2.300 0 4.300 1.200 5.300 3 .5-.1 1-.2 1.500-.2 2.700 0 4.700 1.900 4.700 4.400 0 2.400-1.900 4.300-4.300 4.300z" fill="url(#cg)"/></svg>
<div class="abs nw" id="tmp" style="left:1069px;top:12px;font-size:14px;line-height:18px;color:#fff;transform-origin:0 0;transform:scaleX(0.936)">-2°C</div>
<!-- chevron -->
<svg class="abs" style="left:1112px;top:14.400px" width="14" height="10" viewBox="0 0 14 10"><path d="M1.200 8.500L7 2.500l5.800 6" fill="none" stroke="#fff" stroke-width="1.400"/></svg>
<!-- meet now -->
<svg class="abs" style="left:1136px;top:11px" width="15" height="18" viewBox="0 0 15 18"><g fill="none" stroke="#fff" stroke-width="1.150"><rect x="2.300" y="5.800" width="7.200" height="6.600" rx="1.400"/><path d="M9.500 8.200l3.100-1.500v4.800l-3.100-1.500"/><path d="M3 3c1.800-1.600 5.600-1.600 7.400 0M3 15.200c1.800 1.600 5.600 1.600 7.400 0"/></g></svg>
<!-- network -->
<svg class="abs" style="left:1158px;top:11px" width="20" height="18" viewBox="0 0 20 18"><g fill="none" stroke="#fff" stroke-width="1.250"><path d="M1.700 3.300l15.100-2.300v9.200M1.700 3.300v11.300l8 1.100"/><path d="M5.800 8.300c.9-1.900 3.600-2.600 5.300-1M11 9.300c-.9 1.700-3.400 2.200-5 .9M10 5.200l1.200 2.200-2.300.5M6.900 12l-1-2.100 2.200-.5" stroke-width="1.100"/></g><circle cx="13.700" cy="13.600" r="3.650" fill="#ff9500"/></svg>
<!-- pen -->
<svg class="abs" style="left:1186px;top:11px" width="18" height="18" viewBox="0 0 18 18"><g fill="none" stroke="#fff" stroke-width="1.200"><path d="M6.200 13.500l6.500-11c.5-.8 1.500-1 2.200-.5.800.5 1 1.400.5 2.200l-6.500 11-3.200 1.800z"/><path d="M10.800 5.600l2.600 1.600"/><path d="M5 9.600c-2 .4-3.600 1.800-3.600 3.500 0 1.500 1.300 2.400 3 2.200M12.500 11c1.500-.9 3.200-.6 3.800.5"/></g></svg>
<div class="abs nw" id="lang" style="left:1218px;top:12px;font-size:12.500px;line-height:16px;color:#fff;transform-origin:0 0;transform:scaleX(0.864)">РУС</div>
<div class="abs nw" id="clk" style="left:1269px;top:3px;font-size:12px;line-height:16px;color:#fff;transform-origin:0 0;transform:scaleX(0.893)">9:04</div>
<div class="abs nw" id="dat" style="left:1253px;top:21px;font-size:12px;line-height:16px;color:#fff;transform-origin:0 0;transform:scaleX(0.89)">07.03.2022</div>
<!-- notification -->
<svg class="abs" style="left:1325px;top:11px" width="17" height="18" viewBox="0 0 17 18"><path d="M0.500 0.800h16v12.200h-5.500l-2.500 3.600-2.500-3.600H0.500z" fill="#fff"/><path d="M3.500 4h10M3.500 6.800h10M3.500 9.600h7" stroke="#111318" stroke-width="1.200"/></svg>
<div class="abs" style="left:1361px;top:0;width:1px;height:40px;background:#55585e"></div>

</div>
</body>
</html>
